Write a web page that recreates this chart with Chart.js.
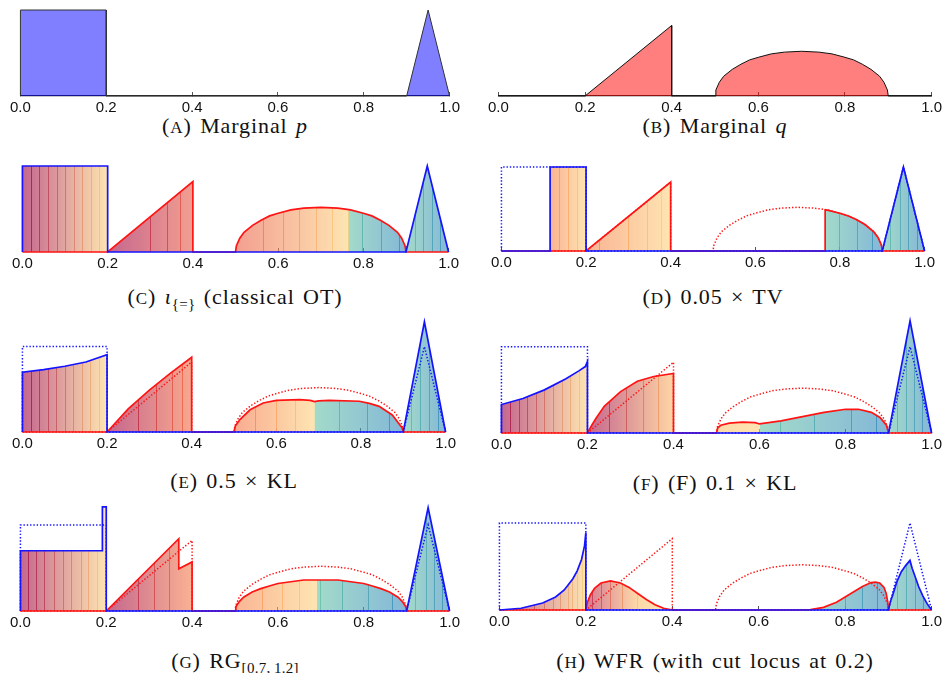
<!DOCTYPE html>
<html>
<head>
<meta charset="utf-8">
<script src="https://cdn.jsdelivr.net/npm/chart.js@4.4.0/dist/chart.umd.min.js"></script>
<style>
body{margin:0;background:#fff;width:944px;height:673px;position:relative;overflow:hidden}
canvas{position:absolute}
.cap{position:absolute;font-family:"Liberation Serif","Times New Roman",serif;font-size:22px;letter-spacing:0.9px;word-spacing:2px;line-height:1;white-space:nowrap;transform:translate(-50%,-50%);color:#111}
.sc{font-variant:small-caps;font-size:24px}
.cap sub{font-size:15px;vertical-align:-5px;line-height:0;letter-spacing:0.3px}
</style>
</head>
<body>
<div class="cap" style="left:235px;top:125px">(<span class="sc">a</span>) Marginal <i>p</i></div>
<div class="cap" style="left:715px;top:125px">(<span class="sc">b</span>) Marginal <i>q</i></div>
<div class="cap" style="left:235px;top:296px">(<span class="sc">c</span>) <i>ι</i><sub>{=}</sub> (classical OT)</div>
<div class="cap" style="left:713px;top:296px">(<span class="sc">d</span>) 0.05 × TV</div>
<div class="cap" style="left:234px;top:480px">(<span class="sc">e</span>) 0.5 × KL</div>
<div class="cap" style="left:715px;top:482px">(<span class="sc">f</span>) (F) 0.1 × KL</div>
<div class="cap" style="left:235px;top:660px">(<span class="sc">g</span>) RG<sub>[0.7,&thinsp;1.2]</sub></div>
<div class="cap" style="left:715px;top:660px">(<span class="sc">h</span>) WFR (with cut locus at 0.2)</div>
<script>
// marginals p and q (also drawn dotted in the later panels)
var pX = [0, 0, 0.2, 0.2, 0.9, 0.95, 1];
var pY = [0, 1, 1, 0, 0, 1, 0];
var qX = [0, 0.2, 0.4, 0.4, 0.5, 0.502, 0.51, 0.52, 0.54, 0.56, 0.58, 0.6, 0.63, 0.66, 0.7, 0.74, 0.77, 0.8, 0.82, 0.84, 0.86, 0.88, 0.89, 0.898, 0.9, 1];
var qY = [0, 0, 0.82, 0, 0, 0.07, 0.16, 0.23, 0.31, 0.37, 0.42, 0.45, 0.49, 0.51, 0.52, 0.51, 0.49, 0.45, 0.42, 0.37, 0.31, 0.23, 0.16, 0.07, 0, 0];

// (D) 0.05 x TV
var dpX = [0, 0.115, 0.115, 0.2, 0.2, 0.9, 0.95, 1];
var dpY = [0, 0, 1, 1, 0, 0, 1, 0];
var dqX = [0, 0.2, 0.4, 0.4, 0.765, 0.765, 0.77, 0.8, 0.82, 0.84, 0.86, 0.88, 0.89, 0.898, 0.9, 1];
var dqY = [0, 0, 0.82, 0, 0, 0.49, 0.487, 0.45, 0.416, 0.371, 0.312, 0.227, 0.162, 0.073, 0, 0];

// (E) 0.5 x KL
var epX = [0, 0, 0.05, 0.1, 0.15, 0.2, 0.2, 0.9, 0.95, 1];
var epY = [0, 0.70, 0.73, 0.77, 0.82, 0.905, 0, 0, 1.29, 0];
var eqX = [0, 0.2, 0.25, 0.3, 0.35, 0.4, 0.4, 0.5, 0.503, 0.514, 0.538, 0.569, 0.6, 0.655, 0.68, 0.69, 0.7, 0.725, 0.796, 0.82, 0.843, 0.874, 0.897, 0.9, 1];
var eqY = [0, 0, 0.27, 0.49, 0.69, 0.875, 0, 0, 0.07, 0.145, 0.26, 0.34, 0.37, 0.38, 0.37, 0.355, 0.365, 0.37, 0.36, 0.335, 0.30, 0.20, 0.05, 0, 0];

// (F) 0.1 x KL
var fpX = [0, 0, 0.05, 0.1, 0.15, 0.18, 0.195, 0.2, 0.2, 0.9, 0.95, 1];
var fpY = [0, 0.33, 0.40, 0.50, 0.63, 0.72, 0.77, 0.83, 0, 0, 1.30, 0];
var fqX = [0, 0.2, 0.21, 0.22, 0.239, 0.277, 0.316, 0.354, 0.4, 0.4, 0.5, 0.503, 0.51, 0.53, 0.56, 0.59, 0.6, 0.65, 0.7, 0.75, 0.8, 0.83, 0.86, 0.88, 0.895, 0.9, 1];
var fqY = [0, 0, 0.09, 0.17, 0.31, 0.48, 0.60, 0.655, 0.69, 0, 0, 0.06, 0.09, 0.115, 0.125, 0.12, 0.105, 0.14, 0.19, 0.24, 0.275, 0.275, 0.24, 0.18, 0.09, 0, 0];

// (G) RG[0.7, 1.2]
var gpX = [0, 0, 0.191, 0.191, 0.2, 0.2, 0.9, 0.95, 1];
var gpY = [0, 0.70, 0.70, 1.21, 1.21, 0, 0, 1.2, 0];
var gqX = [0, 0.2, 0.369, 0.369, 0.4, 0.4, 0.5, 0.502, 0.51, 0.52, 0.54, 0.56, 0.58, 0.6, 0.63, 0.66, 0.7, 0.74, 0.77, 0.8, 0.82, 0.84, 0.86, 0.88, 0.89, 0.898, 0.9, 1];
var gqY = [0, 0, 0.84, 0.49, 0.57, 0, 0, 0.05, 0.11, 0.16, 0.22, 0.26, 0.29, 0.32, 0.34, 0.36, 0.36, 0.36, 0.34, 0.32, 0.29, 0.26, 0.22, 0.16, 0.11, 0.05, 0, 0];

// (H) WFR
var hpX = [0, 0.05, 0.1, 0.13, 0.15, 0.17, 0.18, 0.19, 0.197, 0.2, 0.2, 0.9, 0.905, 0.91, 0.92, 0.93, 0.94, 0.95, 0.955, 0.96, 0.97, 0.98, 0.99, 1];
var hpY = [0, 0.02, 0.08, 0.15, 0.23, 0.36, 0.45, 0.58, 0.74, 0.89, 0, 0, 0.1, 0.17, 0.33, 0.44, 0.51, 0.57, 0.48, 0.41, 0.27, 0.16, 0.07, 0];
var hqX = [0, 0.2, 0.203, 0.21, 0.22, 0.235, 0.257, 0.28, 0.3, 0.32, 0.34, 0.36, 0.38, 0.4, 0.7, 0.72, 0.75, 0.78, 0.8, 0.82, 0.84, 0.86, 0.87, 0.88, 0.89, 0.895, 0.899, 0.9, 1];
var hqY = [0, 0, 0.08, 0.17, 0.25, 0.31, 0.335, 0.31, 0.26, 0.19, 0.12, 0.06, 0.02, 0, 0, 0.005, 0.03, 0.09, 0.15, 0.21, 0.27, 0.315, 0.32, 0.31, 0.26, 0.19, 0.08, 0, 0];

var xTicks = ['0.0', '0.2', '0.4', '0.6', '0.8', '1.0'];

// ---- styles ----
var BLUE = 'rgb(20,20,255)', RED = 'rgb(255,20,20)';
var SPECTRAL = [[0, [158, 1, 66]], [0.2, [213, 62, 79]], [0.4, [244, 109, 67]], [0.6, [253, 174, 97]],
                [0.8, [253, 210, 125]], [0.805, [102, 194, 165]], [1, [50, 136, 189]]];

function cmap(t, a) {
  for (var i = 1; i < SPECTRAL.length; i++) {
    if (t <= SPECTRAL[i][0]) {
      var s0 = SPECTRAL[i - 1], s1 = SPECTRAL[i];
      var f = (t - s0[0]) / (s1[0] - s0[0]);
      var c = s0[1].map(function(v, k) { return Math.round(v + (s1[1][k] - v) * f); });
      return 'rgba(' + c.join(',') + ',' + a + ')';
    }
  }
  return 'rgba(50,136,189,' + a + ')';
}

function grad(chart, stops, a) {
  var xs = chart.scales.x;
  var g = chart.ctx.createLinearGradient(xs.getPixelForValue(0), 0, xs.getPixelForValue(1), 0);
  stops.forEach(function(s) { g.addColorStop(s[0], cmap(s[1], a)); });
  return g;
}

function pts(xs, ys) {
  return xs.map(function(x, i) { return {x: x, y: ys[i]}; });
}

function plain(xs, ys, fillCol, edge) {
  return {data: pts(xs, ys), borderColor: edge, borderWidth: 1, backgroundColor: fillCol, fill: 'origin', order: 0};
}

function solid(xs, ys, color, tStops, stripes) {
  return {
    data: pts(xs, ys), borderColor: color, borderWidth: 1.7, fill: 'origin', order: 0,
    backgroundColor: function(c) { return c.chart.chartArea ? grad(c.chart, tStops, 0.6) : 'transparent'; },
    tStops: tStops, stripes: stripes
  };
}

function dotted(xs, ys, color) {
  return {data: pts(xs, ys), borderColor: color, borderWidth: 1.5, borderDash: [1.4, 1.9], fill: false, order: 1};
}

// thin darker lines inside the coloured areas
var stripePlugin = {
  id: 'stripes',
  beforeDatasetsDraw: function(chart) {
    var ctx = chart.ctx, xs = chart.scales.x, base = chart.scales.y.getPixelForValue(0);
    chart.data.datasets.forEach(function(ds, i) {
      if (!ds.stripes) return;
      var el = chart.getDatasetMeta(i).data;
      ctx.save();
      ctx.beginPath();
      ctx.moveTo(el[0].x, base);
      el.forEach(function(p) { ctx.lineTo(p.x, p.y); });
      ctx.lineTo(el[el.length - 1].x, base);
      ctx.closePath();
      ctx.clip();
      ctx.strokeStyle = grad(chart, ds.tStops, 0.8);
      ctx.lineWidth = 1;
      ds.stripes.forEach(function(s) {
        var px = Math.round(xs.getPixelForValue(s)) + 0.5;
        ctx.beginPath();
        ctx.moveTo(px, chart.chartArea.top);
        ctx.lineTo(px, base);
        ctx.stroke();
      });
      ctx.restore();
    });
  }
};

var SQ = [0.02, 0.04, 0.06, 0.08, 0.1, 0.12, 0.14, 0.16, 0.18];
var TRI = [0.921, 0.941, 0.96, 0.981];
var P_STOPS = [[0, 0], [0.2, 0.8], [0.9, 0.81], [1, 1]];

var panels = [
  {geo: [19, 451, 96, 86, 1.0], line: true, sets: [plain(pX, pY, 'rgba(0,0,255,0.5)', '#333')]},
  {geo: [497, 933, 96, 86, 1.0], line: true, sets: [plain(qX, qY, 'rgba(255,0,0,0.5)', '#111')]},
  {geo: [21, 450, 252, 86, 1.0], sets: [
    solid(pX, pY, BLUE, P_STOPS, SQ.concat(TRI)),
    solid(qX, qY, RED, [[0.2, 0], [0.4, 0.33], [0.5, 0.34], [0.765, 0.8], [0.766, 0.81], [0.9, 1]],
          [0.3, 0.34, 0.37, 0.564, 0.611, 0.65, 0.69, 0.727, 0.764, 0.797, 0.841, 0.883])]},
  {geo: [500, 926, 251, 84, 1.0], sets: [
    solid(dpX, dpY, BLUE, [[0.115, 0.46], [0.2, 0.8], [0.9, 0.81], [1, 1]], [0.136, 0.157, 0.178, 0.919, 0.943, 0.962, 0.982]),
    solid(dqX, dqY, RED, [[0.2, 0.46], [0.4, 0.8], [0.765, 0.81], [0.9, 1]], [0.23, 0.3, 0.345, 0.376, 0.798, 0.84, 0.876]),
    dotted(pX, pY, BLUE), dotted(qX, qY, RED)]},
  {geo: [21, 447, 432, 85, 1.3], sets: [
    solid(epX, epY, BLUE, P_STOPS, SQ.concat([0.918, 0.939, 0.96, 0.981])),
    solid(eqX, eqY, RED, [[0.2, 0], [0.4, 0.4], [0.5, 0.42], [0.69, 0.8], [0.691, 0.81], [0.9, 1]],
          [0.274, 0.315, 0.354, 0.377, 0.549, 0.599, 0.643, 0.749, 0.815, 0.866]),
    dotted(pX, pY, BLUE), dotted(qX, qY, RED)]},
  {geo: [500, 933, 433, 86, 1.31], sets: [
    solid(fpX, fpY, BLUE, P_STOPS, SQ.concat([0.92, 0.94, 0.958, 0.977])),
    solid(fqX, fqY, RED, [[0.2, 0], [0.4, 0.66], [0.5, 0.7], [0.6, 0.8], [0.601, 0.81], [0.9, 1]],
          [0.25, 0.289, 0.33, 0.365, 0.647, 0.727, 0.812, 0.87]),
    dotted(pX, pY, BLUE), dotted(qX, qY, RED)]},
  {geo: [19, 451, 611, 86, 1.22], sets: [
    solid(gpX, gpY, BLUE, P_STOPS, [0.018, 0.037, 0.056, 0.079, 0.099, 0.118, 0.14, 0.158, 0.178, 0.92, 0.944, 0.963, 0.982]),
    solid(gqX, gqY, RED, [[0.2, 0], [0.4, 0.45], [0.5, 0.47], [0.69, 0.8], [0.691, 0.81], [0.9, 1]],
          [0.274, 0.311, 0.346, 0.562, 0.61, 0.65, 0.697, 0.75, 0.81, 0.866]),
    dotted(pX, pY, BLUE), dotted(qX, qY, RED)]},
  {geo: [498, 933, 610, 87, 1.0], sets: [
    solid(hpX, hpY, BLUE, P_STOPS, [0.08, 0.103, 0.123, 0.141, 0.158, 0.169, 0.18, 0.19, 0.92, 0.94, 0.962, 0.981]),
    solid(hqX, hqY, RED, [[0.2, 0.1], [0.32, 0.7], [0.4, 0.8], [0.7, 0.81], [0.9, 1]],
          [0.215, 0.234, 0.257, 0.284, 0.319, 0.8, 0.84, 0.874]),
    dotted(pX, pY, BLUE), dotted(qX, qY, RED)]}
];

var PAD = 16, TOP = 6, AXIS_H = 22;

panels.forEach(function(pn) {
  var x0 = pn.geo[0], x1 = pn.geo[1], axisY = pn.geo[2], areaH = Math.round(pn.geo[3] * pn.geo[4]);
  var cv = document.createElement('canvas');
  cv.width = x1 - x0 + 2 * PAD;
  cv.height = TOP + areaH + AXIS_H;
  cv.style.left = (x0 - PAD) + 'px';
  cv.style.top = (axisY - areaH - TOP) + 'px';
  document.body.appendChild(cv);
  pn.sets.forEach(function(s) { s.pointRadius = 0; s.clip = false; });

  new Chart(cv, {
    type: 'line',
    data: {datasets: pn.sets},
    options: {
      responsive: false,
      animation: false,
      events: [],
      layout: {padding: {left: PAD, right: PAD, top: TOP, bottom: 0}},
      plugins: {legend: {display: false}, tooltip: {enabled: false}, filler: {drawTime: 'beforeDatasetsDraw'}},
      scales: {
        x: {
          type: 'linear', min: 0, max: 1,
          border: {display: !!pn.line, color: '#222', width: 1.3},
          grid: {drawOnChartArea: false, drawTicks: true, tickLength: -4, color: '#555', lineWidth: 1},
          ticks: {
            stepSize: 0.2, padding: 7, color: '#111', maxRotation: 0, autoSkip: false,
            font: {family: 'Liberation Sans, Arial, sans-serif', size: 15},
            callback: function(v, i) { return xTicks[i]; }
          },
          afterFit: function(s) { s.height = AXIS_H; }
        },
        y: {display: false, min: 0, max: pn.geo[4]}
      }
    },
    plugins: [stripePlugin]
  });
});
</script>
</body>
</html>
